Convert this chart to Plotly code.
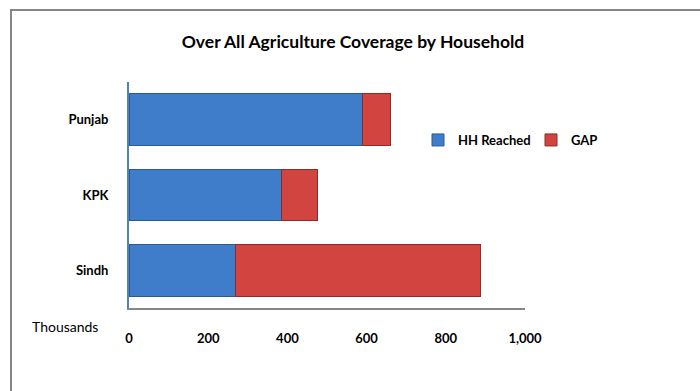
import plotly.graph_objects as go

provinces = ["Punjab", "KPK", "Sindh"]
hh_reached = [589, 385, 270]
gap = [71, 91, 617]
x_ticks = [0, 200, 400, 600, 800, 1000]
x_tick_labels = ["0", "200", "400", "600", "800", "1,000"]

FONT = "Lato, 'DejaVu Sans', sans-serif"
BLUE = "#3F7DCB"
RED = "#D1443F"

fig = go.Figure()
fig.add_trace(go.Bar(
    y=provinces, x=hh_reached, orientation="h", name="HH Reached",
    marker=dict(color=BLUE, line=dict(color="#2E5A94", width=1)),
))
fig.add_trace(go.Bar(
    y=provinces, x=gap, orientation="h", name="GAP",
    marker=dict(color=RED, line=dict(color="#8E2A27", width=1)),
))

L, R, T, B = 129, 175, 82, 83
pw = 700 - L - R
ph = 391 - T - B

def px_x(p):
    return (p - L) / pw

def px_y(p):
    return (391 - B - p) / ph

fig.update_layout(
    width=700, height=391,
    barmode="stack", bargap=0.31,
    margin=dict(l=L, r=R, t=T, b=B),
    paper_bgcolor="white", plot_bgcolor="white",
    font=dict(family=FONT, size=12, color="#000000"),
    title=dict(
        text="<b>Over All Agriculture Coverage by Household</b>",
        x=353 / 700, xanchor="center", xref="container",
        y=1 - 42 / 391, yanchor="middle",
        font=dict(family=FONT, size=17.5, color="#000000"),
    ),
    showlegend=True,
    legend=dict(
        orientation="h", x=px_x(418), y=px_y(140), xanchor="left", yanchor="middle",
        font=dict(family=FONT, size=13, color="#000000", weight="bold"),
        itemwidth=30, entrywidth=68, traceorder="normal", bgcolor="rgba(0,0,0,0)",
    ),
    xaxis=dict(
        range=[0, 1000], tickvals=x_ticks, ticktext=x_tick_labels,
        showgrid=False, zeroline=False, showline=True,
        linecolor="#868686", linewidth=2, ticks="",
        ticklabelstandoff=17,
        tickfont=dict(family=FONT, size=13, color="#000000", weight="bold"),
    ),
    yaxis=dict(
        categoryorder="array", categoryarray=provinces[::-1],
        showgrid=False, zeroline=False, showline=True,
        linecolor="#4F81BD", linewidth=2, ticks="",
        ticklabelstandoff=16,
        tickfont=dict(family=FONT, size=13, color="#000000", weight="bold"),
    ),
    annotations=[dict(
        text="Thousands", x=px_x(65), y=px_y(326), xref="paper", yref="paper",
        showarrow=False, xanchor="center", yanchor="middle",
        font=dict(family=FONT, size=14, color="#000000"),
    )],
    shapes=[dict(
        type="path", xref="paper", yref="paper",
        path=f"M {px_x(11)} {px_y(395)} L {px_x(11)} {px_y(10)} L {px_x(705)} {px_y(10)}",
        line=dict(color="#868686", width=2),
    )],
)

fig.write_html("out.html")
